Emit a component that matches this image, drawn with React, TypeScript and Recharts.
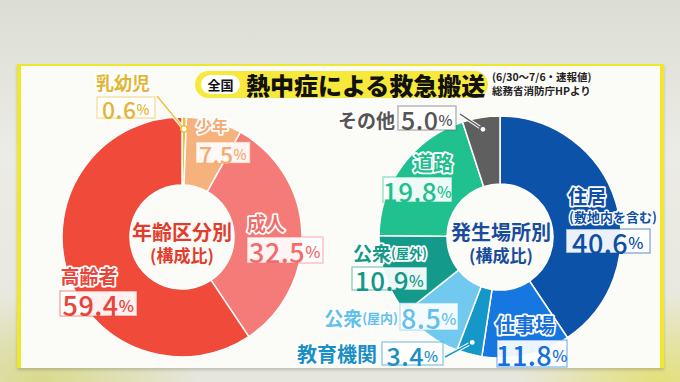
import React from "react";
import { PieChart, Pie, Cell } from "recharts";

/* ── Data ── */
const ageNames = ["乳幼児", "少年", "成人", "高齢者"];
const ageValues = [0.6, 7.5, 32.5, 59.4];

const placeNames = ["住居", "仕事場", "教育機関", "公衆(屋内)", "公衆(屋外)", "道路", "その他"];
const placeValues = [40.6, 11.8, 3.4, 8.5, 10.9, 19.8, 5.0];

const titleBadge = "全国";
const titleText = "熱中症による救急搬送";
const noteLines = ["(6/30〜7/6・速報値)", "総務省消防庁HPより"];
const ageCenter = ["年齢区分別", "(構成比)"];
const placeCenter = ["発生場所別", "(構成比)"];

/* ── Styles ── */
const ageColors = ["#e9c13c", "#f6b27c", "#f57b78", "#f04a3a"];
const ageText = ["#e2b634", "#f4aa72", "#ef6e6c", "#e8443a"];
const placeColors = ["#0c52a8", "#1677e0", "#1598c9", "#72c9f0", "#139a8b", "#20c08f", "#5f5f5f"];
const placeText = ["#0d4fa5", "#1670dc", "#1a8fc6", "#62c0ec", "#12998a", "#22bf8e", "#555555"];

const FONT = "'Noto Sans CJK JP', 'Noto Sans', sans-serif";

type Layout = {
    nx: number; ny: number; anchor?: "start" | "middle" | "end"; fs?: number;
    bx: number; by: number; bw: number; bh: number; vfs?: number;
    note?: [string, number, number];
    lead?: [number, number];
};

// offsets from the pie centre
const ageLayout: Layout[] = [
    { nx: -59, ny: -155, fs: 18, bx: -85, by: -140, bw: 58, bh: 21, vfs: 23, lead: [-25, -141] },
    { nx: 30, ny: -112, fs: 16, bx: 14, by: -95, bw: 54, bh: 21, vfs: 23 },
    { nx: 84, ny: -15, bx: 65, by: 0, bw: 76, bh: 26 },
    { nx: -93, ny: 38, bx: -122, by: 54, bw: 77, bh: 25 },
];
const placeLayout: Layout[] = [
    { nx: 87, ny: -42, bx: 66, by: -8, bw: 84, bh: 24, note: ["(敷地内を含む)", 113, -21] },
    { nx: 25, ny: 87, fs: 20, bx: -3, by: 103, bw: 70, bh: 27 },
    { nx: -123, ny: 116, anchor: "end", fs: 20, bx: -118, by: 105, bw: 61, bh: 23, vfs: 25, lead: [-55, 120] },
    { nx: -102, ny: 80, anchor: "end", bx: -100, by: 66, bw: 58, bh: 27 },
    { nx: -110, ny: 15, bx: -148, by: 30, bw: 75, bh: 23, vfs: 26 },
    { nx: -67, ny: -75, fs: 20, bx: -117, by: -60, bw: 69, bh: 25, vfs: 26 },
    { nx: -105, ny: -118, anchor: "end", bx: -102, by: -131, bw: 58, bh: 24, vfs: 25, lead: [-40, -123] },
];

const RADIAN = Math.PI / 180;

function makeLabel(names: string[], layout: Layout[], lineColors: string[], textColors: string[]) {
    // eslint-disable-next-line @typescript-eslint/no-explicit-any
    return (props: any) => {
        const cx = Number(props.cx);
        const cy = Number(props.cy);
        const i = Number(props.index);
        const L = layout[i];
        const name = names[i];
        const m = name.match(/^(.*?)(\(.*\))?$/);
        const main = m ? m[1] : name;
        const sub = m && m[2] ? m[2] : "";
        const col = textColors[i];
        const fs = L.fs ?? 19;
        const vfs = L.vfs ?? 27;
        let lead = null;
        if (L.lead) {
            const r = Number(props.outerRadius) - 12;
            const px = cx + r * Math.cos(-props.midAngle * RADIAN);
            const py = cy + r * Math.sin(-props.midAngle * RADIAN);
            lead = (
                <g>
                    <line x1={cx + L.lead[0]} y1={cy + L.lead[1]} x2={px} y2={py} stroke="#fff" strokeWidth={3.5} />
                    <line x1={cx + L.lead[0]} y1={cy + L.lead[1]} x2={px} y2={py} stroke={lineColors[i]} strokeWidth={1.5} />
                    <circle cx={px} cy={py} r={3.2} fill="#fff" stroke={lineColors[i]} strokeWidth={1.5} />
                </g>
            );
        }
        return (
            <g key={`lbl-${i}`} fontFamily={FONT}>
                {lead}
                <text
                    x={cx + L.nx}
                    y={cy + L.ny}
                    textAnchor={L.anchor ?? "middle"}
                    dominantBaseline="central"
                    fill={col}
                    stroke="#fff"
                    strokeWidth={3.5}
                    strokeLinejoin="round"
                    paintOrder="stroke"
                    fontSize={fs}
                    fontWeight={700}
                >
                    {main}
                    {sub && <tspan fontSize={13}>{sub}</tspan>}
                </text>
                {L.note && (
                    <text
                        x={cx + L.note[1]}
                        y={cy + L.note[2]}
                        textAnchor="middle"
                        dominantBaseline="central"
                        fill={col}
                        stroke="#fff"
                        strokeWidth={3}
                        strokeLinejoin="round"
                        paintOrder="stroke"
                        fontSize={13}
                        fontWeight={700}
                    >
                        {L.note[0]}
                    </text>
                )}
                <rect
                    x={cx + L.bx}
                    y={cy + L.by}
                    width={L.bw}
                    height={L.bh}
                    fill="#fff"
                    fillOpacity={0.92}
                    stroke={lineColors[i]}
                    strokeOpacity={0.55}
                    strokeWidth={1.2}
                />
                <text
                    x={cx + L.bx + L.bw / 2}
                    y={cy + L.by + L.bh / 2 + 1}
                    textAnchor="middle"
                    dominantBaseline="central"
                    fill={col}
                    fontSize={vfs}
                    fontWeight={500}
                    letterSpacing={0.5}
                >
                    {Number(props.value).toFixed(1)}
                    <tspan fontSize={vfs * 0.6}>%</tspan>
                </text>
            </g>
        );
    };
}

function CenterText({ x, y, lines, color }: { x: number; y: number; lines: string[]; color: string }) {
    return (
        <div
            style={{
                position: "absolute",
                left: x - 60,
                top: y - 23,
                width: 120,
                textAlign: "center",
                color,
                fontWeight: 700,
            }}
        >
            <div style={{ fontSize: 20, lineHeight: "24px" }}>{lines[0]}</div>
            <div style={{ fontSize: 17, lineHeight: "22px" }}>{lines[1]}</div>
        </div>
    );
}

export default function App() {
    const ageData = ageNames.map((n, i) => ({ name: n, value: ageValues[i] }));
    const placeData = placeNames.map((n, i) => ({ name: n, value: placeValues[i] }));
    return (
        <div
            style={{
                position: "absolute",
                left: 0,
                top: 0,
                width: 680,
                height: 382,
                overflow: "hidden",
                fontFamily: FONT,
                background:
                    "radial-gradient(ellipse 160px 90px at 40px 382px, #d9da8c 0%, rgba(217,218,140,0) 100%), radial-gradient(ellipse 140px 90px at 660px 382px, #e3e07a 0%, rgba(227,224,122,0) 100%), linear-gradient(180deg, #dcddd4 0%, #ecece6 40%, #e6e6dc 100%)",
            }}
        >
            {/* panel */}
            <div
                style={{
                    position: "absolute",
                    left: 17,
                    top: 64,
                    width: 639,
                    height: 302,
                    background: "#fbfbf8",
                    borderLeft: "4px solid #efe82a",
                    borderRight: "4px solid #efe82a",
                    borderTop: "2px solid #efe82a",
                    boxShadow: "0 2px 3px rgba(0,0,0,0.18)",
                }}
            />
            {/* title */}
            <div
                style={{
                    position: "absolute",
                    left: 195,
                    top: 71,
                    width: 293,
                    height: 27,
                    borderRadius: 14,
                    background: "#f6e93b",
                }}
            >
                <div
                    style={{
                        position: "absolute",
                        left: 6,
                        top: 4,
                        width: 39,
                        height: 19,
                        borderRadius: 10,
                        background: "#fff",
                        fontSize: 13,
                        fontWeight: 700,
                        lineHeight: "19px",
                        textAlign: "center",
                        color: "#111",
                    }}
                >
                    {titleBadge}
                </div>
                <div
                    style={{
                        position: "absolute",
                        left: 51,
                        top: 0,
                        fontSize: 24,
                        fontWeight: 900,
                        lineHeight: "27px",
                        color: "#111",
                        whiteSpace: "nowrap",
                    }}
                >
                    {titleText}
                </div>
            </div>
            <div
                style={{
                    position: "absolute",
                    left: 492,
                    top: 70,
                    fontSize: 10.5,
                    fontWeight: 700,
                    lineHeight: "14px",
                    color: "#222",
                    whiteSpace: "nowrap",
                }}
            >
                <div>{noteLines[0]}</div>
                <div>{noteLines[1]}</div>
            </div>

            <div style={{ position: "absolute", left: 0, top: 0 }}>
                <PieChart width={680} height={382} margin={{ top: 0, right: 0, bottom: 0, left: 0 }}>
                    <Pie
                        data={ageData}
                        dataKey="value"
                        nameKey="name"
                        cx={182}
                        cy={237}
                        innerRadius={52}
                        outerRadius={120}
                        startAngle={90}
                        endAngle={-270}
                        stroke="#fff"
                        strokeWidth={1.5}
                        isAnimationActive={false}
                        labelLine={false}
                        label={makeLabel(ageNames, ageLayout, ageColors, ageText)}
                    >
                        {ageData.map((_, i) => (
                            <Cell key={i} fill={ageColors[i]} />
                        ))}
                    </Pie>
                    <Pie
                        data={placeData}
                        dataKey="value"
                        nameKey="name"
                        cx={500}
                        cy={237}
                        innerRadius={53}
                        outerRadius={121}
                        startAngle={90}
                        endAngle={-270}
                        stroke="#fff"
                        strokeWidth={1.5}
                        isAnimationActive={false}
                        labelLine={false}
                        label={makeLabel(placeNames, placeLayout, placeColors, placeText)}
                    >
                        {placeData.map((_, i) => (
                            <Cell key={i} fill={placeColors[i]} />
                        ))}
                    </Pie>
                </PieChart>
            </div>

            <CenterText x={182} y={243} lines={ageCenter} color="#e23c2e" />
            <CenterText x={501} y={243} lines={placeCenter} color="#1a4c9c" />
        </div>
    );
}
